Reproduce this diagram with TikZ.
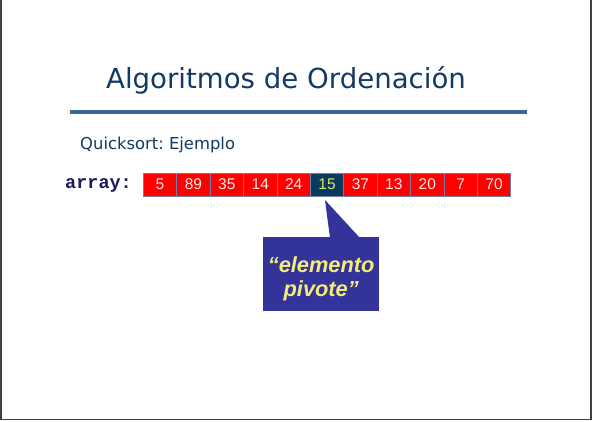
\documentclass[tikz,border=0pt]{standalone}
\usepackage{fontspec}
\setmainfont{Liberation Sans}
\newfontfamily\titlefont{DejaVu Sans}
\newfontfamily\codefont{Liberation Mono}
\frenchspacing
\begin{document}
\begin{tikzpicture}[x=1pt,y=-1pt,
  cellbox/.style={draw=cellrim,line width=0.7pt,fill=cellred,minimum width=33.4pt,minimum height=23pt,
    inner sep=0pt,anchor=north west,font=\fontsize{15.5}{15.5}\selectfont,text=cellink},
  pivotbox/.style={cellbox,fill=pivotnavy,text=pivotink},
  calloutfill/.style={fill=calloutblue,draw=none}]
\definecolor{cellred}{HTML}{FF0000}
\definecolor{cellrim}{HTML}{7A7AA8}
\definecolor{cellink}{HTML}{FFE8E8}
\definecolor{pivotnavy}{HTML}{0B3A60}
\definecolor{pivotink}{HTML}{D8E860}
\definecolor{calloutblue}{HTML}{33339A}
\definecolor{calloutink}{HTML}{F2EC7A}
\definecolor{ruleblue}{HTML}{3C6898}
\definecolor{headnavy}{HTML}{123A62}
\definecolor{codenavy}{HTML}{1A1A5E}
\useasboundingbox (0,0) rectangle (593,421);
% page frame (open at the top)
\draw[line width=1.2pt,draw=black!75] (1,0) -- (1,419.5) -- (591,419.5) -- (591,0);
% heading and rule
\node[font=\titlefont\fontsize{27.6}{27.6}\selectfont,text=headnavy,anchor=base] (title) at (286,88) {Algoritmos de Ordenación};
\draw[ruleblue,line width=3.5pt] (70,112) coordinate (ruleL) -- (527,112) coordinate (ruleR);
\node[font=\titlefont\fontsize{16.4}{16.4}\selectfont,text=headnavy,anchor=base west,inner sep=0pt] (sub) at (80,149) {Quicksort: Ejemplo};
% array label and cells
\node[font=\codefont\bfseries\fontsize{18.5}{18.5}\selectfont,text=codenavy,anchor=base west,inner sep=0pt] (lbl) at (65,188) {array:};
\foreach \v [count=\i from 0] in {5,89,35,14,24,15,37,13,20,7,70}{
  \ifnum\i=5
    \node[pivotbox] (c\i) at (143+33.4*\i,172.5) {\v};
  \else
    \node[cellbox] (c\i) at (143+33.4*\i,172.5) {\v};
  \fi
}
% callout pointing at the pivot cell
\coordinate (tip) at (325,200);
\fill[calloutblue] (tip) -- (330,238) -- (360,238) -- cycle;
\node[calloutfill,minimum width=116pt,minimum height=74pt,anchor=north west,inner sep=0pt] (note) at (263,237) {};
\node[text=calloutink,font=\bfseries\itshape\fontsize{21.8}{24}\selectfont,align=center,inner sep=0pt]
  (notetext) at ([yshift=-5pt]note.center) {``elemento\\pivote''};
\end{tikzpicture}
\end{document}
